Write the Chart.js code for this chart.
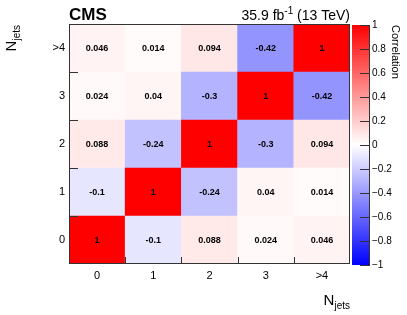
<!DOCTYPE html>
<html>
<head>
<meta charset="utf-8">
<script src="https://cdn.jsdelivr.net/npm/chart.js@4/dist/chart.umd.min.js"></script>
<style>
  html, body { margin: 0; padding: 0; background: #fff; }
  #wrap { position: relative; width: 407px; height: 315px; }
  #matrix { position: absolute; left: 0; top: 0; }
  #zbar { position: absolute; left: 351px; top: 0; }
</style>
</head>
<body>
<div id="wrap">
  <canvas id="matrix" width="407" height="315"></canvas>
  <canvas id="zbar" width="56" height="315"></canvas>
</div>
<script>
// 数据
const categories = ['0', '1', '2', '3', '>4'];
const row0 = [1, -0.1, 0.088, 0.024, 0.046];
const row1 = [-0.1, 1, -0.24, 0.04, 0.014];
const row2 = [0.088, -0.24, 1, -0.3, 0.094];
const row3 = [0.024, 0.04, -0.3, 1, -0.42];
const row4 = [0.046, 0.014, 0.094, -0.42, 1];
const rows = [row0, row1, row2, row3, row4];
const zTicks = [-1, -0.8, -0.6, -0.4, -0.2, 0, 0.2, 0.4, 0.6, 0.8, 1];

const FONT = '"Liberation Sans", Arial, Helvetica, sans-serif';

// 蓝-白-红 色阶
function corrColor(v) {
  if (v >= 0) {
    const c = Math.round(255 * (1 - v));
    return `rgb(255,${c},${c})`;
  }
  const c = Math.round(255 * (1 + v));
  return `rgb(${c},${c},255)`;
}

// 带下标的文字
function drawSubText(ctx, x, y, main, sub, align) {
  ctx.font = `15px ${FONT}`;
  const wMain = ctx.measureText(main).width;
  ctx.font = `10px ${FONT}`;
  const wSub = ctx.measureText(sub).width;
  const x0 = align === 'right' ? x - wMain - wSub : x;
  ctx.textAlign = 'left';
  ctx.textBaseline = 'alphabetic';
  ctx.font = `15px ${FONT}`;
  ctx.fillText(main, x0, y);
  ctx.font = `10px ${FONT}`;
  ctx.fillText(sub, x0 + wMain, y + 4);
}

// 矩阵上的框线、刻度、数值、标题
const matrixOverlay = {
  id: 'matrixOverlay',
  afterDatasetsDraw(chart) {
    const ctx = chart.ctx;
    const a = chart.chartArea;
    const xs = chart.scales.x;
    const ys = chart.scales.y;
    ctx.save();

    // 单元格数值
    ctx.fillStyle = '#000';
    ctx.font = `bold 9px ${FONT}`;
    ctx.textAlign = 'center';
    ctx.textBaseline = 'middle';
    rows.forEach((vals, r) => {
      vals.forEach((v, c) => {
        ctx.fillText(String(v), xs.getPixelForValue(c), ys.getPixelForValue(r + 0.5) + 1);
      });
    });

    // 框线
    ctx.strokeStyle = '#333';
    ctx.lineWidth = 1;
    ctx.strokeRect(a.left + 0.5, a.top + 0.5, a.right - a.left - 1, a.bottom - a.top - 1);

    // 内向刻度
    ctx.beginPath();
    for (let i = 1; i < categories.length; i++) {
      const px = Math.round(xs.getPixelForValue(i - 0.5)) + 0.5;
      ctx.moveTo(px, a.bottom);
      ctx.lineTo(px, a.bottom - 7);
      const py = Math.round(ys.getPixelForValue(i)) + 0.5;
      ctx.moveTo(a.left, py);
      ctx.lineTo(a.left + 9, py);
    }
    ctx.stroke();
    ctx.restore();
  },
  afterDraw(chart) {
    const ctx = chart.ctx;
    const a = chart.chartArea;
    ctx.save();
    ctx.fillStyle = '#000';

    // CMS
    ctx.font = `bold 17px ${FONT}`;
    ctx.textAlign = 'left';
    ctx.textBaseline = 'alphabetic';
    ctx.fillText('CMS', a.left, 20);

    // 亮度
    const p1 = '35.9 fb', sup = '-1', p2 = ' (13 TeV)';
    ctx.font = `14px ${FONT}`;
    const w1 = ctx.measureText(p1).width;
    const w2 = ctx.measureText(p2).width;
    ctx.font = `10px ${FONT}`;
    const ws = ctx.measureText(sup).width;
    let x = a.right - (w1 + ws + w2);
    ctx.font = `14px ${FONT}`;
    ctx.fillText(p1, x, 20);
    ctx.font = `10px ${FONT}`;
    ctx.fillText(sup, x + w1, 14);
    ctx.font = `14px ${FONT}`;
    ctx.fillText(p2, x + w1 + ws, 20);

    // 轴标题
    drawSubText(ctx, a.right, 305, 'N', 'jets', 'right');
    ctx.translate(16, a.top + 1);
    ctx.rotate(-Math.PI / 2);
    drawSubText(ctx, 0, 0, 'N', 'jets', 'right');
    ctx.restore();
  }
};

new Chart(document.getElementById('matrix'), {
  type: 'bar',
  data: {
    labels: categories,
    datasets: rows.map((vals, r) => ({
      data: vals.map(() => [r, r + 1]),
      backgroundColor: vals.map(corrColor),
      borderWidth: 0,
      barPercentage: 1,
      categoryPercentage: 1,
      grouped: false
    }))
  },
  options: {
    responsive: false,
    animation: false,
    layout: { padding: { left: 0, right: 57, top: 24, bottom: 0 } },
    plugins: { legend: { display: false }, tooltip: { enabled: false } },
    scales: {
      x: {
        type: 'category',
        offset: true,
        grid: { display: false, drawTicks: false },
        border: { display: false },
        ticks: { color: '#000', font: { size: 11, family: FONT }, padding: 5, maxRotation: 0, autoSkip: false },
        afterFit(scale) { scale.height = 51; }
      },
      y: {
        type: 'linear',
        min: 0,
        max: 5,
        grid: { display: false, drawTicks: false },
        border: { display: false },
        afterBuildTicks(axis) { axis.ticks = categories.map((c, i) => ({ value: i + 0.5 })); },
        ticks: {
          color: '#000',
          font: { size: 11, family: FONT },
          padding: 4,
          autoSkip: false,
          callback: (v, i) => categories[i]
        },
        afterFit(scale) { scale.width = 69; }
      }
    }
  },
  plugins: [matrixOverlay]
});

// 色标
const zbarOverlay = {
  id: 'zbarOverlay',
  afterDraw(chart) {
    const ctx = chart.ctx;
    const a = chart.chartArea;
    const ys = chart.scales.y;
    ctx.save();
    ctx.strokeStyle = '#333';
    ctx.lineWidth = 1;
    ctx.beginPath();
    zTicks.forEach(t => {
      const py = Math.round(ys.getPixelForValue(t)) + 0.5;
      ctx.moveTo(a.right - 10, py);
      ctx.lineTo(a.right, py);
    });
    ctx.moveTo(a.right - 0.5, a.top);
    ctx.lineTo(a.right - 0.5, a.bottom);
    ctx.stroke();

    ctx.fillStyle = '#000';
    ctx.font = `11px ${FONT}`;
    ctx.translate(41, a.top);
    ctx.rotate(Math.PI / 2);
    ctx.textAlign = 'left';
    ctx.textBaseline = 'alphabetic';
    ctx.fillText('Correlation', 0, 0);
    ctx.restore();
  }
};

new Chart(document.getElementById('zbar'), {
  type: 'bar',
  data: {
    labels: ['z'],
    datasets: [{
      data: [[-1, 1]],
      borderWidth: 0,
      barPercentage: 1,
      categoryPercentage: 1,
      backgroundColor(ctx) {
        const area = ctx.chart.chartArea;
        if (!area) return '#fff';
        const g = ctx.chart.ctx.createLinearGradient(0, area.bottom, 0, area.top);
        g.addColorStop(0, corrColor(-1));
        g.addColorStop(0.5, corrColor(0));
        g.addColorStop(1, corrColor(1));
        return g;
      }
    }]
  },
  options: {
    responsive: false,
    animation: false,
    layout: { padding: { left: 1, right: 0, top: 25, bottom: 50 } },
    plugins: { legend: { display: false }, tooltip: { enabled: false } },
    scales: {
      x: { display: false },
      y: {
        position: 'right',
        min: -1,
        max: 1,
        grid: { display: false, drawTicks: false },
        border: { display: false },
        afterBuildTicks(axis) { axis.ticks = zTicks.map(v => ({ value: v })); },
        ticks: {
          color: '#000',
          font: { size: 10, family: FONT },
          padding: 2,
          autoSkip: false,
          callback: v => {
            const r = Math.round(v * 10) / 10;
            return r < 0 ? '\u2212' + Math.abs(r) : String(r);
          }
        },
        afterFit(scale) { scale.width = 37; }
      }
    }
  },
  plugins: [zbarOverlay]
});
</script>
</body>
</html>
